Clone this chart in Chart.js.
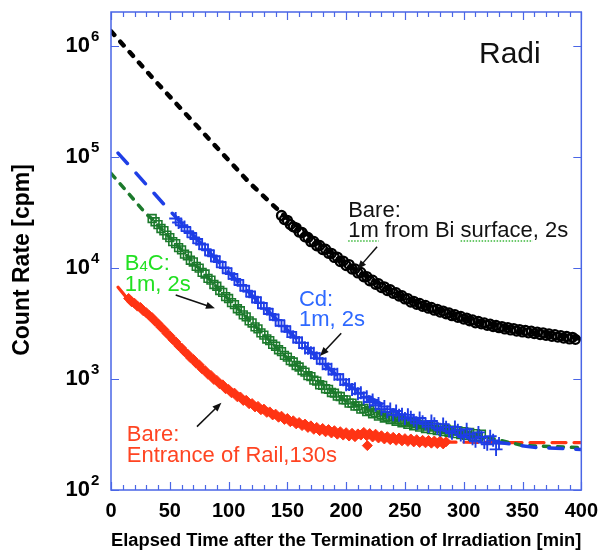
<!DOCTYPE html>
<html>
<head>
<meta charset="utf-8">
<script src="https://cdn.jsdelivr.net/npm/chart.js@4.4.0/dist/chart.umd.min.js"></script>
<style>
  html, body { margin: 0; padding: 0; background: #fff; }
</style>
</head>
<body>
<canvas id="decay" width="607" height="554"></canvas>
<script>
// elapsed time [min] / count rate [cpm]

// Bare, 1m from Bi surface (open circles)
const bareBiTime = [145, 147.5, 150, 152.5, 155, 157.5, 160, 162.5, 165, 167.5,
  170, 172.5, 175, 177.5, 180, 182.5, 185, 187.5, 190, 192.5,
  195, 197.5, 200, 202.5, 205, 207.5, 210, 212.5, 215, 217.5,
  220, 222.5, 225, 227.5, 230, 232.5, 235, 237.5, 240, 242.5,
  245, 247.5, 250, 252.5, 255, 257.5, 260, 262.5, 265, 267.5,
  270, 272.5, 275, 277.5, 280, 282.5, 285, 287.5, 290, 292.5,
  295, 297.5, 300, 302.5, 305, 307.5, 310, 312.5, 315, 317.5,
  320, 322.5, 325, 327.5, 330, 332.5, 335, 337.5, 340, 342.5,
  345, 347.5, 350, 352.5, 355, 357.5, 360, 362.5, 365, 367.5,
  370, 372.5, 375, 377.5, 380, 382.5, 385, 387.5, 390, 392.5, 395];
const bareBiCpm = [29600, 27200, 26800, 24600, 23400, 22900, 21000, 20800, 19000, 18800,
  17200, 17300, 15800, 15900, 14600, 14700, 13500, 13500, 12400, 12500,
  11400, 11500, 10500, 10700, 9750, 9800, 9000, 9100, 8300, 8350,
  7650, 7750, 7100, 7200, 6650, 6750, 6250, 6350, 5900, 5980,
  5580, 5620, 5250, 5280, 4920, 5000, 4700, 4780, 4500, 4590,
  4330, 4400, 4160, 4230, 4000, 4080, 3860, 3930, 3710, 3790,
  3590, 3650, 3460, 3530, 3340, 3400, 3200, 3290, 3130, 3190,
  3040, 3110, 2960, 3030, 2890, 2960, 2820, 2900, 2760, 2840,
  2700, 2780, 2650, 2730, 2600, 2690, 2560, 2640, 2510, 2600,
  2470, 2540, 2420, 2500, 2380, 2450, 2330, 2410, 2290, 2370, 2270];

// Cd, 1m (plus markers)
const cdTime = [55, 57.5, 60, 62.5, 65, 67.5, 70, 72.5, 75, 77.5,
  80, 82.5, 85, 87.5, 90, 92.5, 95, 97.5, 100, 102.5,
  105, 107.5, 110, 112.5, 115, 117.5, 120, 122.5, 125, 127.5,
  130, 132.5, 135, 137.5, 140, 142.5, 145, 147.5, 150, 152.5,
  155, 157.5, 160, 162.5, 165, 167.5, 170, 172.5, 175, 177.5,
  180, 182.5, 185, 187.5, 190, 192.5, 195, 197.5, 200, 202.5,
  205, 207.5, 210, 212.5, 215, 217.5, 220, 222.5, 225, 227.5,
  230, 232.5, 235, 237.5, 240, 242.5, 245, 247.5, 250, 252.5,
  255, 257.5, 260, 262.5, 265, 267.5, 270, 272.5, 275, 277.5,
  280, 282.5, 285, 287.5, 290, 292.5, 295, 297.5, 300, 302.5,
  305, 307.5, 310, 312.5, 315, 317.5, 320, 322.5, 325, 327.5, 330];
const cdCpm = [27800, 25600, 24200, 23300, 21400, 20600, 18800, 18200, 16600, 16200,
  14700, 14400, 12900, 12700, 11400, 11300, 10100, 9950, 8950, 8800,
  7950, 7800, 7000, 6900, 6220, 6120, 5500, 5430, 4880, 4820,
  4330, 4280, 3840, 3800, 3400, 3370, 3010, 2980, 2670, 2650,
  2380, 2360, 2130, 2110, 1900, 1890, 1720, 1700, 1540, 1520,
  1370, 1360, 1230, 1220, 1100, 1100, 990, 985, 885, 890,
  805, 815, 735, 750, 675, 690, 620, 645, 580, 600,
  535, 565, 505, 535, 475, 515, 470, 482, 440, 475,
  452, 425, 398, 445, 412, 392, 372, 418, 395, 360,
  345, 392, 368, 338, 325, 370, 345, 312, 300, 352,
  318, 290, 275, 330, 300, 268, 258, 305, 280, 232, 262];

// B4C, 1m (open squares)
const b4cTime = [35, 37.5, 40, 42.5, 45, 47.5, 50, 52.5, 55, 57.5,
  60, 62.5, 65, 67.5, 70, 72.5, 75, 77.5, 80, 82.5,
  85, 87.5, 90, 92.5, 95, 97.5, 100, 102.5, 105, 107.5,
  110, 112.5, 115, 117.5, 120, 122.5, 125, 127.5, 130, 132.5,
  135, 137.5, 140, 142.5, 145, 147.5, 150, 152.5, 155, 157.5,
  160, 162.5, 165, 167.5, 170, 172.5, 175, 177.5, 180, 182.5,
  185, 187.5, 190, 192.5, 195, 197.5, 200, 202.5, 205, 207.5,
  210, 212.5, 215, 217.5, 220, 222.5, 225, 227.5, 230, 232.5,
  235, 237.5, 240, 242.5, 245, 247.5, 250, 252.5, 255, 257.5,
  260, 262.5, 265, 267.5, 270, 272.5, 275, 277.5, 280, 282.5,
  285, 287.5, 290, 292.5, 295, 297.5, 300, 302.5, 305, 307.5,
  310, 312.5, 315];
const b4cCpm = [27800, 26000, 24500, 22600, 21600, 19700, 18700, 17200, 16500, 15200,
  14500, 13300, 12800, 11700, 11300, 10300, 9950, 9100, 8800, 8030,
  7750, 7080, 6830, 6250, 6020, 5500, 5300, 4860, 4670, 4280,
  4110, 3770, 3620, 3330, 3190, 2940, 2820, 2600, 2480, 2290,
  2210, 2050, 1970, 1830, 1760, 1630, 1570, 1460, 1420, 1320,
  1280, 1190, 1150, 1070, 1050, 975, 955, 885, 875, 815,
  805, 755, 745, 700, 695, 650, 648, 605, 606, 570,
  572, 535, 542, 508, 518, 486, 496, 462, 475, 445,
  460, 430, 444, 416, 430, 402, 416, 390, 405, 378,
  394, 368, 385, 358, 376, 350, 368, 343, 360, 336,
  352, 330, 346, 322, 340, 316, 335, 310, 330, 304,
  322, 300, 318];

// Bare, entrance of rail, 130s (filled diamonds)
const railTime = [15, 17.5, 20, 22.5, 25, 27.5, 30, 32.5, 35, 37.5,
  40, 42.5, 45, 47.5, 50, 52.5, 55, 57.5, 60, 62.5,
  65, 67.5, 70, 72.5, 75, 77.5, 80, 82.5, 85, 87.5,
  90, 92.5, 95, 97.5, 100, 102.5, 105, 107.5, 110, 112.5,
  115, 117.5, 120, 122.5, 125, 127.5, 130, 132.5, 135, 137.5,
  140, 142.5, 145, 147.5, 150, 152.5, 155, 157.5, 160, 162.5,
  165, 167.5, 170, 172.5, 175, 177.5, 180, 182.5, 185, 187.5,
  190, 192.5, 195, 197.5, 200, 202.5, 205, 207.5, 210, 212.5,
  215, 217.5, 220, 222.5, 225, 227.5, 230, 232.5, 235, 237.5,
  240, 242.5, 245, 247.5, 250, 252.5, 255, 257.5, 260, 262.5,
  265, 267.5, 270, 272.5, 275, 277.5, 280, 282.5, 285, 218];
const railCpm = [5300, 4950, 4800, 4520, 4400, 4100, 3950, 3720, 3560, 3300,
  3150, 2920, 2780, 2570, 2450, 2260, 2160, 1990, 1900, 1760,
  1680, 1550, 1500, 1380, 1340, 1230, 1190, 1100, 1075, 990,
  970, 900, 885, 815, 805, 750, 745, 690, 688, 640,
  642, 598, 600, 560, 566, 528, 535, 500, 505, 474,
  482, 452, 462, 432, 440, 412, 420, 394, 405, 380,
  392, 366, 378, 352, 366, 342, 358, 334, 350, 326,
  342, 318, 335, 312, 328, 306, 324, 302, 320, 312,
  330, 308, 322, 300, 318, 294, 308, 288, 302, 284,
  298, 280, 294, 277, 290, 274, 288, 271, 284, 268,
  280, 266, 279, 264, 276, 262, 276, 260, 272, 251];

// fitted decay curves (dashed)
const bareBiFitTime = [0, 37, 79, 118, 148, 200, 250, 300, 350, 400];
const bareBiFitCpm = [1350000, 490000, 162000, 58000, 29000, 10700, 5300, 3500, 2680, 2300];
const cdFitTime = [6, 48, 100, 150, 200, 250, 300, 330, 360, 400];
const cdFitCpm = [108000, 34400, 9100, 2750, 900, 450, 315, 268, 242, 232];
const b4cFitTime = [0, 30, 35, 100, 150, 200, 250, 300, 315, 350, 400];
const b4cFitCpm = [71000, 30500, 27500, 5200, 1530, 630, 398, 317, 305, 252, 240];
const railFitTime = [6, 12, 50, 100, 150, 200, 250, 285, 340, 400];
const railFitCpm = [6700, 5600, 2400, 780, 425, 318, 283, 270, 267, 267];

// axis labels
const xTicks = [0, 50, 100, 150, 200, 250, 300, 350, 400];
const yExponents = [2, 3, 4, 5, 6];
const xTitle = 'Elapsed Time after the Termination of Irradiation [min]';
const yTitle = 'Count Rate [cpm]';

const fam = '"Liberation Sans", Arial, Helvetica, sans-serif';
const axisBlue = '#4a66e6';

Chart.defaults.font.family = fam;
Chart.defaults.color = '#000';

function pts(xs, ys) {
  return xs.map((x, i) => ({ x: x, y: ys[i] }));
}

// text labels with arrows, anchored in data coordinates
const notes = [
  { at: [313, 698000], lines: ['Radi'], color: '#111', size: 30 },
  { at: [201.7, 28700], lines: ['Bare:', '1m from Bi surface, 2s'], color: '#111', size: 22,
    marked: ['1m', 'surface'], arrow: [[226.3, 15500], [209.6, 9700]] },
  { at: [159.8, 4580], lines: ['Cd:', '1m, 2s'], color: '#2e69ff', size: 22,
    arrow: [[195.8, 2580], [177.7, 1607]] },
  { at: [11.7, 9560], lines: [['B', '4', 'C:'], '1m, 2s'], color: '#22e022', size: 22,
    arrow: [[55, 5690], [88.4, 4325]] },
  { at: [13.4, 276], lines: ['Bare:', 'Entrance of Rail,130s'], color: '#ff4422', size: 22,
    arrow: [[73.1, 372], [93.9, 611]] }
];

function drawArrow(ctx, x0, y0, x1, y1) {
  const ang = Math.atan2(y1 - y0, x1 - x0);
  const head = 9, half = 3.6;
  ctx.strokeStyle = '#111';
  ctx.fillStyle = '#111';
  ctx.lineWidth = 1.5;
  ctx.beginPath();
  ctx.moveTo(x0, y0);
  ctx.lineTo(x1 - Math.cos(ang) * head * 0.8, y1 - Math.sin(ang) * head * 0.8);
  ctx.stroke();
  ctx.beginPath();
  ctx.moveTo(x1, y1);
  ctx.lineTo(x1 - Math.cos(ang) * head - Math.sin(ang) * half, y1 - Math.sin(ang) * head + Math.cos(ang) * half);
  ctx.lineTo(x1 - Math.cos(ang) * head + Math.sin(ang) * half, y1 - Math.sin(ang) * head - Math.cos(ang) * half);
  ctx.closePath();
  ctx.fill();
}

const overlay = {
  id: 'overlay',
  afterDraw(chart) {
    const { ctx, chartArea: a, scales: { x, y } } = chart;
    ctx.save();

    // frame with inward ticks on all four sides
    ctx.strokeStyle = axisBlue;
    ctx.lineWidth = 1.5;
    ctx.strokeRect(a.left, a.top, a.right - a.left, a.bottom - a.top);
    ctx.lineWidth = 1.2;
    ctx.beginPath();
    for (let t = 0; t <= 400; t += 10) {
      const px = Math.round(x.getPixelForValue(t)) + 0.5;
      const len = t % 50 ? 5 : 8;
      ctx.moveTo(px, a.bottom); ctx.lineTo(px, a.bottom - len);
      ctx.moveTo(px, a.top); ctx.lineTo(px, a.top + len);
    }
    yExponents.forEach(e => {
      const py = Math.round(y.getPixelForValue(Math.pow(10, e))) + 0.5;
      ctx.moveTo(a.left, py); ctx.lineTo(a.left + 8, py);
      ctx.moveTo(a.right, py); ctx.lineTo(a.right - 8, py);
    });
    ctx.stroke();

    // y tick labels as 10 with superscript exponent
    ctx.fillStyle = '#000';
    ctx.textBaseline = 'alphabetic';
    yExponents.forEach(e => {
      const py = y.getPixelForValue(Math.pow(10, e));
      ctx.font = 'bold 22px ' + fam;
      ctx.textAlign = 'right';
      ctx.fillText('10', a.left - 21, py + 6);
      ctx.font = 'bold 15px ' + fam;
      ctx.textAlign = 'left';
      ctx.fillText(String(e), a.left - 20, py - 5);
    });

    // y axis title
    ctx.save();
    ctx.translate(23, (a.top + a.bottom) / 2 + 9);
    ctx.rotate(-Math.PI / 2);
    ctx.font = 'bold 23px ' + fam;
    ctx.textAlign = 'center';
    ctx.textBaseline = 'middle';
    ctx.fillText(yTitle, 0, 0);
    ctx.restore();

    // annotations
    notes.forEach(n => {
      const lx = x.getPixelForValue(n.at[0]);
      const ly = y.getPixelForValue(n.at[1]);
      ctx.fillStyle = n.color;
      ctx.textAlign = 'left';
      ctx.textBaseline = 'alphabetic';
      n.lines.forEach((line, i) => {
        const by = ly + i * 20.5;
        ctx.font = n.size + 'px ' + fam;
        if (Array.isArray(line)) {
          // B4C with a small subscript 4
          let cx = lx;
          line.forEach((seg, k) => {
            ctx.font = (k === 1 ? 15 : n.size) + 'px ' + fam;
            ctx.fillText(seg, cx, by + (k === 1 ? 1 : 0));
            cx += ctx.measureText(seg).width;
          });
        } else {
          ctx.fillText(line, lx, by);
          if (n.marked && i === 1) {
            ctx.save();
            ctx.strokeStyle = '#3cb83c';
            ctx.lineWidth = 1.5;
            ctx.setLineDash([1.5, 1.5]);
            ctx.beginPath();
            n.marked.forEach(w => {
              const start = line.indexOf(w);
              const x0 = lx + ctx.measureText(line.slice(0, start)).width;
              const x1 = x0 + ctx.measureText(w).width;
              ctx.moveTo(x0, by + 3.5); ctx.lineTo(x1, by + 3.5);
            });
            ctx.stroke();
            ctx.restore();
          }
        }
      });
      if (n.arrow) {
        const [t, h] = n.arrow;
        drawArrow(ctx, x.getPixelForValue(t[0]), y.getPixelForValue(t[1]),
          x.getPixelForValue(h[0]), y.getPixelForValue(h[1]));
      }
    });
    ctx.restore();
  }
};

function fitLine(xs, ys, color, dash, width) {
  return {
    data: pts(xs, ys), showLine: true, pointRadius: 0,
    borderColor: color, borderWidth: width, borderDash: dash,
    borderCapStyle: 'round', tension: 0
  };
}

new Chart(document.getElementById('decay'), {
  type: 'scatter',
  data: {
    datasets: [
      { // black circles
        data: pts(bareBiTime, bareBiCpm), pointStyle: 'circle', pointRadius: 4.5,
        borderColor: '#000', backgroundColor: 'rgba(255,255,255,0)', pointBorderWidth: 2.3
      },
      { // blue crosses
        data: pts(cdTime, cdCpm), pointStyle: 'cross', pointRadius: 6.5,
        borderColor: '#1e3de6', backgroundColor: '#1e3de6', pointBorderWidth: 1.9
      },
      { // green squares
        data: pts(b4cTime, b4cCpm), pointStyle: 'rect', pointRadius: 5.5,
        borderColor: '#1c7a2c', backgroundColor: 'rgba(255,255,255,0)', pointBorderWidth: 1.6
      },
      { // red diamonds
        data: pts(railTime, railCpm), pointStyle: 'rectRot', pointRadius: 5,
        borderColor: '#ff3414', backgroundColor: '#ff3414', pointBorderWidth: 1
      },
      fitLine(bareBiFitTime, bareBiFitCpm, '#000', [5, 9], 4.5),
      fitLine(cdFitTime, cdFitCpm, '#1f3fe6', [14, 13], 3.5),
      fitLine(b4cFitTime, b4cFitCpm, '#1c7a2c', [6, 8], 3.5),
      fitLine(railFitTime, railFitCpm, '#ff3414', [14, 8], 3.2)
    ]
  },
  options: {
    responsive: false,
    animation: false,
    events: [],
    layout: { padding: { top: 12, right: 18, bottom: 0, left: 0 } },
    plugins: { legend: { display: false }, tooltip: { enabled: false } },
    scales: {
      x: {
        type: 'linear', min: 0, max: 400,
        afterFit: s => { s.height = 64; },
        afterBuildTicks: s => { s.ticks = xTicks.map(v => ({ value: v })); },
        grid: { display: false, drawTicks: false },
        border: { display: false },
        ticks: { padding: 9, maxRotation: 0, autoSkip: false, color: '#000',
          font: { size: 20, weight: 'bold' } },
        title: { display: true, text: xTitle, color: '#000',
          font: { size: 19.2, weight: 'bold' }, padding: { top: 0, bottom: 2 } }
      },
      y: {
        type: 'logarithmic', min: 100, max: 2010000,
        afterFit: s => { s.width = 111; },
        grid: { display: false, drawTicks: false },
        border: { display: false },
        ticks: { display: false }
      }
    }
  },
  plugins: [overlay]
});
</script>
</body>
</html>
